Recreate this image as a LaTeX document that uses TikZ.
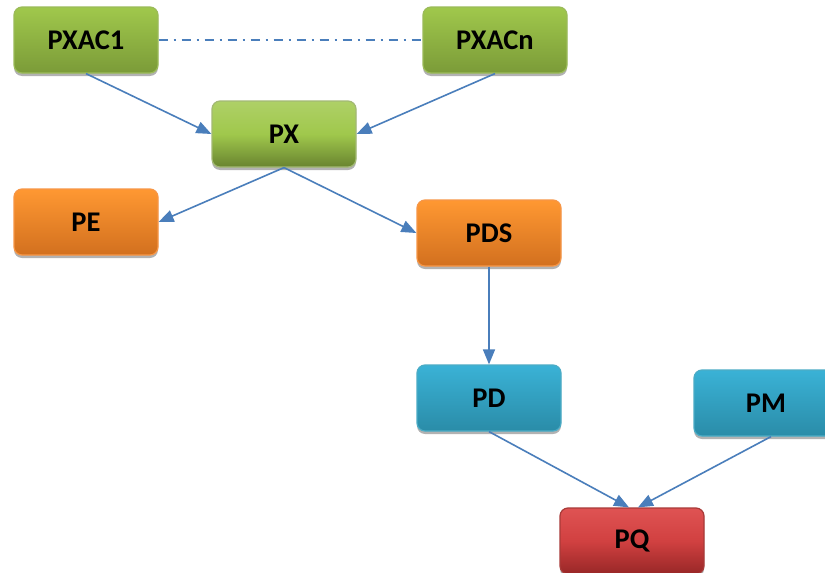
\documentclass[tikz,border=0pt]{standalone}
\usepackage{fontspec}
\setmainfont{Carlito}
\usetikzlibrary{shadows,arrows.meta,calc}
\definecolor{arrowblue}{HTML}{4A7EBB}
\definecolor{greenT}{HTML}{A0C84C}
\definecolor{greenB}{HTML}{7B9B38}
\definecolor{greenD}{HTML}{9BBB59}
\definecolor{orangeT}{HTML}{FF9832}
\definecolor{orangeB}{HTML}{D2701F}
\definecolor{orangeD}{HTML}{F79646}
\definecolor{blueT}{HTML}{3AB2D6}
\definecolor{blueB}{HTML}{2A8CA8}
\definecolor{blueD}{HTML}{4BACC6}
\definecolor{redT}{HTML}{DC4444}
\definecolor{redB}{HTML}{B32E2E}
\definecolor{redD}{HTML}{A83A38}
\begin{document}
\begin{tikzpicture}[x=1pt,y=-1pt,
  box/.style={rounded corners=8pt, minimum width=144pt, minimum height=66pt,
    inner sep=0pt, font=\fontsize{28.5}{32}\selectfont\bfseries,
    drop shadow={shadow xshift=0pt,shadow yshift=-3pt,opacity=0.3,fill=black}},
  greenbox/.style={box, top color=greenT, bottom color=greenB, draw=greenD, line width=1.2pt},
  greenbevel/.style={box, top color=greenT!85!white, bottom color=greenB!85!black, middle color=greenT, draw=greenB!70!white, line width=1.2pt},
  orangebox/.style={box, top color=orangeT, bottom color=orangeB, draw=orangeD, line width=1.2pt},
  bluebox/.style={box, top color=blueT, bottom color=blueB, draw=blueD, line width=1.2pt},
  redbevel/.style={box, top color=redT!92!white, bottom color=redB!85!black, middle color=redT!95!black, draw=redD, line width=1.2pt},
  conn/.style={draw=arrowblue, line width=1.6pt, -{Triangle[length=15pt,width=12pt]}},
  dashdotline/.style={draw=arrowblue, line width=1.3pt, dash pattern=on 9pt off 6pt on 2pt off 6pt}
]
\clip (0,0) rectangle (825,573);
\fill[white] (0,0) rectangle (825,573);
\node[greenbox] (pxac1) at (86,40) {PXAC1};
\node[greenbox] (pxacn) at (495,40) {PXACn};
\node[greenbevel] (px) at (284,134) {PX};
\node[orangebox] (pe) at (86,222) {PE};
\node[orangebox] (pds) at (489,233) {PDS};
\node[bluebox] (pd) at (489,398) {PD};
\node[bluebox] (pm) at (766,403) {PM};
\node[redbevel] (pq) at (632,541) {PQ};

\draw[dashdotline] (pxac1.east) -- (pxacn.west);
\draw[conn] (pxac1.south) -- (px.west);
\draw[conn] (pxacn.south) -- (px.east);
\draw[conn] (px.south) -- (pe.east);
\draw[conn] (px.south) -- (pds.west);
\draw[conn] (pds.south) -- (pd.north);
\draw[conn] (pd.south) -- ($(pq.north)+(-3,0)$);
\draw[conn] ($(pm.south)+(5,0)$) -- ($(pq.north)+(6,0)$);
\end{tikzpicture}
\end{document}
